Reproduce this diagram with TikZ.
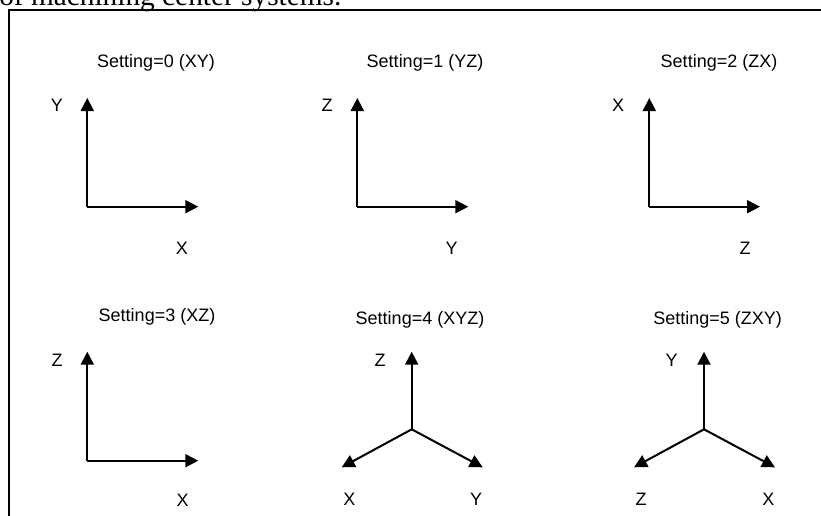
\documentclass[tikz,border=0pt]{standalone}
\usepackage{fontspec}
\setmainfont{Liberation Sans}
\newfontfamily\headfont{Liberation Serif}
\usetikzlibrary{arrows.meta}

\begin{document}
\begin{tikzpicture}[x=0.75pt,y=-0.75pt]
\tikzset{axis/.style={line width=1.5pt,-{Triangle[length=9.75pt,width=9.75pt]}}}
\tikzset{lab/.style={inner sep=0pt,font=\fontsize{13.5}{16}\selectfont}}
\useasboundingbox (0,0) rectangle (821,515);
\node (head) at (-1,5.7) [anchor=base west,inner sep=0pt,font=\headfont\fontsize{22}{26}\selectfont] {of machining center systems.};
\coordinate (fa) at (8.7,516);
\coordinate (fb) at (8.7,10);
\coordinate (fc) at (822,10);
\draw[line width=1.3pt] (fa) -- (fb) -- (fc);

% setting 0
\node (t0) at (156,63) [lab] {Setting=0 (XY)};
\coordinate (o0) at (87.3,206.7);
\coordinate (v0) at (87.3,98);
\coordinate (h0) at (198.3,206.7);
\node (lv0) at (57,105.7) [lab] {Y};
\node (lh0) at (182,248) [lab] {X};
\draw[axis] (o0) -- (v0);
\draw[axis] (o0) -- (h0);

% setting 1
\node (t1) at (425,63) [lab] {Setting=1 (YZ)};
\coordinate (o1) at (357.3,206.7);
\coordinate (v1) at (357.3,98);
\coordinate (h1) at (468.3,206.7);
\node (lv1) at (327,105.7) [lab] {Z};
\node (lh1) at (451.7,248) [lab] {Y};
\draw[axis] (o1) -- (v1);
\draw[axis] (o1) -- (h1);

% setting 2
\node (t2) at (719,63) [lab] {Setting=2 (ZX)};
\coordinate (o2) at (649.3,206.7);
\coordinate (v2) at (649.3,98);
\coordinate (h2) at (760,206.7);
\node (lv2) at (618,105.7) [lab] {X};
\node (lh2) at (745,248) [lab] {Z};
\draw[axis] (o2) -- (v2);
\draw[axis] (o2) -- (h2);

% setting 3
\node (t3) at (157,316.7) [lab] {Setting=3 (XZ)};
\coordinate (o3) at (87.3,460.7);
\coordinate (v3) at (87.3,351.7);
\coordinate (h3) at (198.3,460.7);
\node (lv3) at (57,360.7) [lab] {Z};
\node (lh3) at (182.7,500) [lab] {X};
\draw[axis] (o3) -- (v3);
\draw[axis] (o3) -- (h3);

% setting 4
\node (t4) at (420,320) [lab] {Setting=4 (XYZ)};
\coordinate (o4) at (411.7,429.3);
\coordinate (v4) at (411.7,351.7);
\coordinate (l4) at (341.7,467.3);
\coordinate (r4) at (482.7,467.3);
\node (lv4) at (380,360.7) [lab] {Z};
\node (ll4) at (349.3,499.3) [lab] {X};
\node (lr4) at (476,499.3) [lab] {Y};
\draw[axis] (o4) -- (v4);
\draw[axis] (o4) -- (l4);
\draw[axis] (o4) -- (r4);

% setting 5
\node (t5) at (717.7,320) [lab] {Setting=5 (ZXY)};
\coordinate (o5) at (704,429.3);
\coordinate (v5) at (704,351.7);
\coordinate (l5) at (634,467.3);
\coordinate (r5) at (775,467.3);
\node (lv5) at (671.7,360.7) [lab] {Y};
\node (ll5) at (641,499.3) [lab] {Z};
\node (lr5) at (768.3,499.3) [lab] {X};
\draw[axis] (o5) -- (v5);
\draw[axis] (o5) -- (l5);
\draw[axis] (o5) -- (r5);
\end{tikzpicture}
\end{document}
